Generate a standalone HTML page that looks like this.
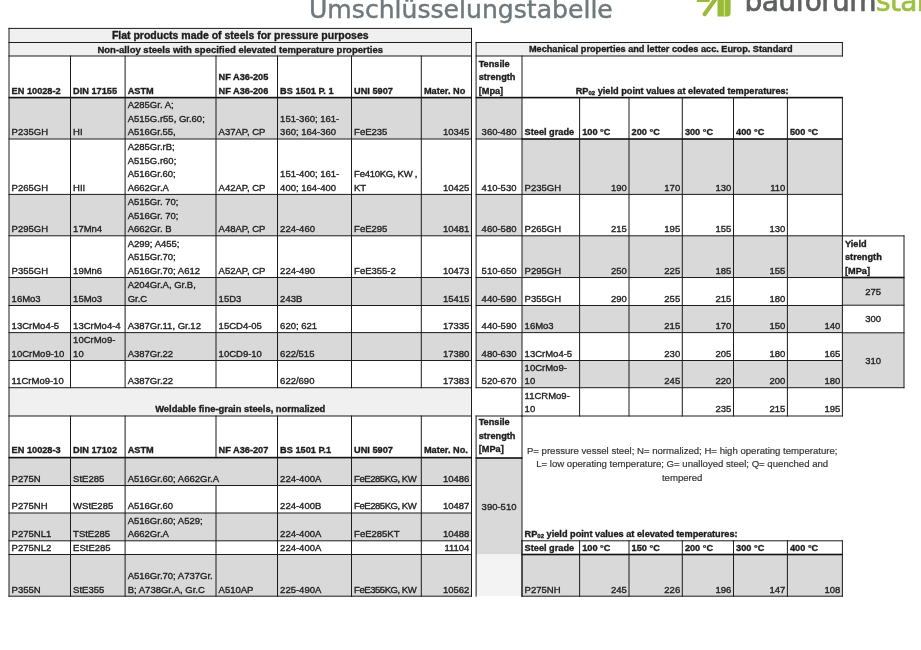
<!DOCTYPE html>
<html><head><meta charset="utf-8"><title>Umschlüsselungstabelle</title>
<style>
html,body{margin:0;padding:0;background:#fff;}
body{width:921px;height:650px;position:relative;overflow:hidden;}
.t{position:absolute;font-family:"Liberation Sans",Arial,sans-serif;font-size:9.5px;line-height:13.6px;white-space:nowrap;color:#222;-webkit-text-stroke:0.35px #222;}
.b{font-weight:bold;color:#1a1a1a;font-size:9.2px;}
.m{font-size:9.17px;}
.ta{font-weight:bold;font-size:10.5px;color:#1a1a1a;}
.tb{font-weight:bold;font-size:9.5px;color:#1a1a1a;}
.e{color:#363636;font-size:9.6px;-webkit-text-stroke:0.2px #363636;}
.sub{font-size:6px;position:relative;top:1px;line-height:0;}
svg.grid{position:absolute;left:0;top:0;}
.title{position:absolute;left:309px;top:-5px;font-family:"DejaVu Sans",sans-serif;font-size:25.1px;line-height:30px;color:#6f797d;white-space:nowrap;-webkit-text-stroke:0.45px #6f797d;}
.brand{position:absolute;left:744.5px;top:-13.2px;font-family:"DejaVu Sans",sans-serif;font-size:28px;line-height:30px;color:#5f6062;letter-spacing:-0.6px;white-space:nowrap;-webkit-text-stroke:0.7px #5f6062;}
.brand span{-webkit-text-stroke:0.7px #9dc13f;}
.brand span{color:#9dc13f;}
.logo{position:absolute;left:690px;top:0;}
</style></head><body>
<div class="title">Umschlüsselungstabelle</div>
<svg class="logo" width="50" height="22" viewBox="0 0 50 22">
<polygon points="6.9,-4 21,-4 19.4,2.1 6.9,2.1" fill="#9aba3a"/>
<line x1="26.2" y1="-2" x2="14.6" y2="14.2" stroke="#9aba3a" stroke-width="4.1" stroke-linecap="round"/>
<path d="M27.5,-4 H40.6 V13 Q40.6,16.4 37.2,16.4 H27.5 Z" fill="#9aba3a"/>
<rect x="33.8" y="-4" width="1.1" height="20.4" fill="#d2ec86"/>
</svg>
<div class="brand">bauforum<span>stahl</span></div>
<svg class="grid" width="921" height="650" viewBox="0 0 921 650">
<rect x="9.00" y="28.40" width="462.50" height="27.60" fill="#f0f0f0"/>
<rect x="9.00" y="97.60" width="462.50" height="41.40" fill="#d9d9d9"/>
<rect x="9.00" y="194.40" width="462.50" height="41.40" fill="#d9d9d9"/>
<rect x="9.00" y="277.50" width="462.50" height="28.00" fill="#d9d9d9"/>
<rect x="9.00" y="332.60" width="462.50" height="27.90" fill="#d9d9d9"/>
<rect x="9.00" y="387.70" width="462.50" height="28.30" fill="#f0f0f0"/>
<rect x="9.00" y="457.60" width="462.50" height="27.90" fill="#d9d9d9"/>
<rect x="9.00" y="513.00" width="462.50" height="27.80" fill="#d9d9d9"/>
<rect x="9.00" y="554.50" width="462.50" height="41.70" fill="#d9d9d9"/>
<rect x="476.10" y="42.50" width="366.30" height="13.50" fill="#f0f0f0"/>
<rect x="476.10" y="97.60" width="45.90" height="41.40" fill="#d9d9d9"/>
<rect x="476.10" y="194.40" width="45.90" height="41.40" fill="#d9d9d9"/>
<rect x="476.10" y="277.50" width="45.90" height="28.00" fill="#d9d9d9"/>
<rect x="476.10" y="332.60" width="45.90" height="27.90" fill="#d9d9d9"/>
<rect x="522.00" y="139.00" width="320.40" height="55.40" fill="#d9d9d9"/>
<rect x="522.00" y="235.80" width="320.40" height="41.70" fill="#d9d9d9"/>
<rect x="522.00" y="305.50" width="320.40" height="27.10" fill="#d9d9d9"/>
<rect x="522.00" y="360.50" width="320.40" height="27.20" fill="#d9d9d9"/>
<rect x="842.40" y="277.50" width="61.60" height="27.70" fill="#d9d9d9"/>
<rect x="842.40" y="332.80" width="61.60" height="54.90" fill="#d9d9d9"/>
<rect x="476.10" y="458.00" width="45.90" height="96.50" fill="#d9d9d9"/>
<rect x="476.10" y="554.50" width="45.90" height="41.70" fill="#f3f3f3"/>
<rect x="522.00" y="554.50" width="320.40" height="41.70" fill="#d9d9d9"/>
<rect x="8.50" y="27.90" width="463.50" height="1.00" fill="#1c1c1c"/>
<rect x="8.50" y="42.00" width="463.50" height="1.00" fill="#1c1c1c"/>
<rect x="8.50" y="55.50" width="463.50" height="1.00" fill="#1c1c1c"/>
<rect x="8.50" y="96.80" width="463.50" height="1.60" fill="#111"/>
<rect x="8.50" y="138.50" width="463.50" height="1.00" fill="#1c1c1c"/>
<rect x="8.50" y="193.90" width="463.50" height="1.00" fill="#1c1c1c"/>
<rect x="8.50" y="235.30" width="463.50" height="1.00" fill="#1c1c1c"/>
<rect x="8.50" y="277.00" width="463.50" height="1.00" fill="#1c1c1c"/>
<rect x="8.50" y="305.00" width="463.50" height="1.00" fill="#1c1c1c"/>
<rect x="8.50" y="332.10" width="463.50" height="1.00" fill="#1c1c1c"/>
<rect x="8.50" y="360.00" width="463.50" height="1.00" fill="#1c1c1c"/>
<rect x="8.50" y="387.20" width="463.50" height="1.00" fill="#1c1c1c"/>
<rect x="8.50" y="27.90" width="1.00" height="568.80" fill="#1c1c1c"/>
<rect x="471.00" y="27.90" width="1.00" height="568.80" fill="#1c1c1c"/>
<rect x="70.00" y="55.50" width="1.00" height="332.70" fill="#1c1c1c"/>
<rect x="124.60" y="55.50" width="1.00" height="332.70" fill="#1c1c1c"/>
<rect x="215.50" y="55.50" width="1.00" height="332.70" fill="#1c1c1c"/>
<rect x="277.00" y="55.50" width="1.00" height="332.70" fill="#1c1c1c"/>
<rect x="351.00" y="55.50" width="1.00" height="332.70" fill="#1c1c1c"/>
<rect x="420.80" y="55.50" width="1.00" height="332.70" fill="#1c1c1c"/>
<rect x="8.50" y="415.50" width="463.50" height="1.00" fill="#1c1c1c"/>
<rect x="8.50" y="456.80" width="463.50" height="1.60" fill="#111"/>
<rect x="8.50" y="485.00" width="463.50" height="1.00" fill="#1c1c1c"/>
<rect x="8.50" y="512.50" width="463.50" height="1.00" fill="#1c1c1c"/>
<rect x="8.50" y="540.30" width="463.50" height="1.00" fill="#1c1c1c"/>
<rect x="8.50" y="554.00" width="463.50" height="1.00" fill="#1c1c1c"/>
<rect x="8.50" y="595.70" width="463.50" height="1.00" fill="#1c1c1c"/>
<rect x="70.00" y="415.50" width="1.00" height="181.20" fill="#1c1c1c"/>
<rect x="124.60" y="415.50" width="1.00" height="181.20" fill="#1c1c1c"/>
<rect x="215.50" y="415.50" width="1.00" height="42.60" fill="#1c1c1c"/>
<rect x="215.50" y="485.00" width="1.00" height="111.70" fill="#1c1c1c"/>
<rect x="277.00" y="415.50" width="1.00" height="181.20" fill="#1c1c1c"/>
<rect x="351.00" y="415.50" width="1.00" height="181.20" fill="#1c1c1c"/>
<rect x="420.80" y="415.50" width="1.00" height="181.20" fill="#1c1c1c"/>
<rect x="475.60" y="42.00" width="367.30" height="1.00" fill="#1c1c1c"/>
<rect x="475.60" y="55.50" width="367.30" height="1.00" fill="#1c1c1c"/>
<rect x="475.60" y="96.80" width="367.30" height="1.60" fill="#111"/>
<rect x="521.50" y="138.20" width="321.40" height="1.60" fill="#111"/>
<rect x="475.60" y="138.50" width="46.90" height="1.00" fill="#1c1c1c"/>
<rect x="475.60" y="193.90" width="367.30" height="1.00" fill="#1c1c1c"/>
<rect x="475.60" y="235.30" width="367.30" height="1.00" fill="#1c1c1c"/>
<rect x="475.60" y="277.00" width="367.30" height="1.00" fill="#1c1c1c"/>
<rect x="475.60" y="305.00" width="367.30" height="1.00" fill="#1c1c1c"/>
<rect x="475.60" y="332.10" width="367.30" height="1.00" fill="#1c1c1c"/>
<rect x="475.60" y="360.00" width="367.30" height="1.00" fill="#1c1c1c"/>
<rect x="475.60" y="387.20" width="367.30" height="1.00" fill="#1c1c1c"/>
<rect x="521.50" y="415.50" width="321.40" height="1.00" fill="#1c1c1c"/>
<rect x="475.60" y="42.00" width="1.00" height="346.20" fill="#1c1c1c"/>
<rect x="841.90" y="42.00" width="1.00" height="14.50" fill="#1c1c1c"/>
<rect x="521.50" y="55.50" width="1.00" height="361.00" fill="#1c1c1c"/>
<rect x="579.10" y="97.10" width="1.00" height="319.40" fill="#1c1c1c"/>
<rect x="628.50" y="97.10" width="1.00" height="319.40" fill="#1c1c1c"/>
<rect x="681.80" y="97.10" width="1.00" height="319.40" fill="#1c1c1c"/>
<rect x="733.00" y="97.10" width="1.00" height="319.40" fill="#1c1c1c"/>
<rect x="786.90" y="97.10" width="1.00" height="319.40" fill="#1c1c1c"/>
<rect x="841.90" y="97.10" width="1.00" height="319.40" fill="#1c1c1c"/>
<rect x="841.90" y="235.40" width="62.60" height="1.00" fill="#1c1c1c"/>
<rect x="841.90" y="276.70" width="62.60" height="1.60" fill="#111"/>
<rect x="841.90" y="304.70" width="62.60" height="1.00" fill="#1c1c1c"/>
<rect x="841.90" y="332.30" width="62.60" height="1.00" fill="#1c1c1c"/>
<rect x="841.90" y="387.20" width="62.60" height="1.00" fill="#1c1c1c"/>
<rect x="903.50" y="235.40" width="1.00" height="152.80" fill="#1c1c1c"/>
<rect x="475.60" y="415.50" width="46.90" height="1.00" fill="#1c1c1c"/>
<rect x="475.60" y="457.20" width="46.90" height="1.60" fill="#111"/>
<rect x="475.60" y="415.50" width="1.00" height="181.20" fill="#1c1c1c"/>
<rect x="521.50" y="415.50" width="1.00" height="181.20" fill="#1c1c1c"/>
<rect x="521.50" y="540.30" width="321.40" height="1.00" fill="#1c1c1c"/>
<rect x="521.50" y="553.70" width="321.40" height="1.60" fill="#111"/>
<rect x="521.50" y="595.70" width="321.40" height="1.00" fill="#1c1c1c"/>
<rect x="521.50" y="540.30" width="1.00" height="56.40" fill="#1c1c1c"/>
<rect x="579.10" y="540.30" width="1.00" height="56.40" fill="#1c1c1c"/>
<rect x="628.50" y="540.30" width="1.00" height="56.40" fill="#1c1c1c"/>
<rect x="681.80" y="540.30" width="1.00" height="56.40" fill="#1c1c1c"/>
<rect x="733.00" y="540.30" width="1.00" height="56.40" fill="#1c1c1c"/>
<rect x="786.90" y="540.30" width="1.00" height="56.40" fill="#1c1c1c"/>
<rect x="841.90" y="540.30" width="1.00" height="56.40" fill="#1c1c1c"/>
</svg>
<div class="t b" style="left:11.60px;width:56.30px;bottom:551.60px;text-align:left;">EN 10028-2</div>
<div class="t b" style="left:73.10px;width:49.40px;bottom:551.60px;text-align:left;">DIN 17155</div>
<div class="t b" style="left:127.70px;width:85.70px;bottom:551.60px;text-align:left;">ASTM</div>
<div class="t b" style="left:218.60px;width:56.30px;bottom:551.60px;text-align:left;">NF A36-205<br>NF A36-206</div>
<div class="t b" style="left:280.10px;width:68.80px;bottom:551.60px;text-align:left;">BS 1501 P. 1</div>
<div class="t b" style="left:354.10px;width:64.60px;bottom:551.60px;text-align:left;">UNI 5907</div>
<div class="t b" style="left:423.90px;width:45.00px;bottom:551.60px;text-align:left;">Mater. No</div>
<div class="t d" style="left:11.60px;width:56.30px;bottom:511.00px;text-align:left;">P235GH</div>
<div class="t d" style="left:73.10px;width:49.40px;bottom:511.00px;text-align:left;">HI</div>
<div class="t d" style="left:127.70px;width:85.70px;bottom:511.00px;text-align:left;">A285Gr. A;<br>A515G.r55, Gr.60;<br>A516Gr.55,</div>
<div class="t d" style="left:218.60px;width:56.30px;bottom:511.00px;text-align:left;">A37AP, CP</div>
<div class="t d" style="left:280.10px;width:68.80px;bottom:511.00px;text-align:left;">151-360; 161-<br>360; 164-360</div>
<div class="t d" style="left:354.10px;width:64.60px;bottom:511.00px;text-align:left;">FeE235</div>
<div class="t d" style="left:423.40px;width:46.00px;bottom:511.00px;text-align:right;">10345</div>
<div class="t d" style="left:11.60px;width:56.30px;bottom:455.60px;text-align:left;">P265GH</div>
<div class="t d" style="left:73.10px;width:49.40px;bottom:455.60px;text-align:left;">HII</div>
<div class="t d" style="left:127.70px;width:85.70px;bottom:455.60px;text-align:left;">A285Gr.rB;<br>A515G.r60;<br>A516Gr.60;<br>A662Gr.A</div>
<div class="t d" style="left:218.60px;width:56.30px;bottom:455.60px;text-align:left;">A42AP, CP</div>
<div class="t d" style="left:280.10px;width:68.80px;bottom:455.60px;text-align:left;">151-400; 161-<br>400; 164-400</div>
<div class="t d" style="left:354.10px;width:64.60px;bottom:455.60px;text-align:left;letter-spacing:-0.27px;">Fe410KG, KW ,<br>KT</div>
<div class="t d" style="left:423.40px;width:46.00px;bottom:455.60px;text-align:right;">10425</div>
<div class="t d" style="left:11.60px;width:56.30px;bottom:414.20px;text-align:left;">P295GH</div>
<div class="t d" style="left:73.10px;width:49.40px;bottom:414.20px;text-align:left;">17Mn4</div>
<div class="t d" style="left:127.70px;width:85.70px;bottom:414.20px;text-align:left;">A515Gr. 70;<br>A516Gr. 70;<br>A662Gr. B</div>
<div class="t d" style="left:218.60px;width:56.30px;bottom:414.20px;text-align:left;">A48AP, CP</div>
<div class="t d" style="left:280.10px;width:68.80px;bottom:414.20px;text-align:left;">224-460</div>
<div class="t d" style="left:354.10px;width:64.60px;bottom:414.20px;text-align:left;">FeE295</div>
<div class="t d" style="left:423.40px;width:46.00px;bottom:414.20px;text-align:right;">10481</div>
<div class="t d" style="left:11.60px;width:56.30px;bottom:372.50px;text-align:left;">P355GH</div>
<div class="t d" style="left:73.10px;width:49.40px;bottom:372.50px;text-align:left;">19Mn6</div>
<div class="t d" style="left:127.70px;width:85.70px;bottom:372.50px;text-align:left;">A299; A455;<br>A515Gr.70;<br>A516Gr.70; A612</div>
<div class="t d" style="left:218.60px;width:56.30px;bottom:372.50px;text-align:left;">A52AP, CP</div>
<div class="t d" style="left:280.10px;width:68.80px;bottom:372.50px;text-align:left;">224-490</div>
<div class="t d" style="left:354.10px;width:64.60px;bottom:372.50px;text-align:left;">FeE355-2</div>
<div class="t d" style="left:423.40px;width:46.00px;bottom:372.50px;text-align:right;">10473</div>
<div class="t d" style="left:11.60px;width:56.30px;bottom:344.50px;text-align:left;">16Mo3</div>
<div class="t d" style="left:73.10px;width:49.40px;bottom:344.50px;text-align:left;">15Mo3</div>
<div class="t d" style="left:127.70px;width:85.70px;bottom:344.50px;text-align:left;">A204Gr.A, Gr.B,<br>Gr.C</div>
<div class="t d" style="left:218.60px;width:56.30px;bottom:344.50px;text-align:left;">15D3</div>
<div class="t d" style="left:280.10px;width:68.80px;bottom:344.50px;text-align:left;">243B</div>
<div class="t d" style="left:423.40px;width:46.00px;bottom:344.50px;text-align:right;">15415</div>
<div class="t d" style="left:11.60px;width:56.30px;bottom:317.40px;text-align:left;">13CrMo4-5</div>
<div class="t d" style="left:73.10px;width:49.40px;bottom:317.40px;text-align:left;">13CrMo4-4</div>
<div class="t d" style="left:127.70px;width:85.70px;bottom:317.40px;text-align:left;">A387Gr.11, Gr.12</div>
<div class="t d" style="left:218.60px;width:56.30px;bottom:317.40px;text-align:left;">15CD4-05</div>
<div class="t d" style="left:280.10px;width:68.80px;bottom:317.40px;text-align:left;">620; 621</div>
<div class="t d" style="left:423.40px;width:46.00px;bottom:317.40px;text-align:right;">17335</div>
<div class="t d" style="left:11.60px;width:56.30px;bottom:289.50px;text-align:left;">10CrMo9-10</div>
<div class="t d" style="left:73.10px;width:49.40px;bottom:289.50px;text-align:left;">10CrMo9-<br>10</div>
<div class="t d" style="left:127.70px;width:85.70px;bottom:289.50px;text-align:left;">A387Gr.22</div>
<div class="t d" style="left:218.60px;width:56.30px;bottom:289.50px;text-align:left;">10CD9-10</div>
<div class="t d" style="left:280.10px;width:68.80px;bottom:289.50px;text-align:left;">622/515</div>
<div class="t d" style="left:423.40px;width:46.00px;bottom:289.50px;text-align:right;">17380</div>
<div class="t d" style="left:11.60px;width:56.30px;bottom:262.30px;text-align:left;">11CrMo9-10</div>
<div class="t d" style="left:127.70px;width:85.70px;bottom:262.30px;text-align:left;">A387Gr.22</div>
<div class="t d" style="left:280.10px;width:68.80px;bottom:262.30px;text-align:left;">622/690</div>
<div class="t d" style="left:423.40px;width:46.00px;bottom:262.30px;text-align:right;">17383</div>
<div class="t ta" style="left:9.00px;width:462.50px;top:29.41px;text-align:center;">Flat products made of steels for pressure purposes</div>
<div class="t tb" style="left:9.00px;width:462.50px;top:42.81px;text-align:center;">Non-alloy steels with specified elevated temperature properties</div>
<div class="t b" style="left:9.00px;width:462.50px;top:402.31px;text-align:center;font-size:9.4px;">Weldable fine-grain steels, normalized</div>
<div class="t b" style="left:11.60px;width:56.30px;bottom:192.90px;text-align:left;">EN 10028-3</div>
<div class="t b" style="left:73.10px;width:49.40px;bottom:192.90px;text-align:left;">DIN 17102</div>
<div class="t b" style="left:127.70px;width:85.70px;bottom:192.90px;text-align:left;">ASTM</div>
<div class="t b" style="left:218.60px;width:56.30px;bottom:192.90px;text-align:left;">NF A36-207</div>
<div class="t b" style="left:280.10px;width:68.80px;bottom:192.90px;text-align:left;">BS 1501 P.1</div>
<div class="t b" style="left:354.10px;width:64.60px;bottom:192.90px;text-align:left;">UNI 5907</div>
<div class="t b" style="left:423.90px;width:45.00px;bottom:192.90px;text-align:left;">Mater. No.</div>
<div class="t d" style="left:11.60px;width:56.30px;bottom:164.50px;text-align:left;">P275N</div>
<div class="t d" style="left:73.10px;width:49.40px;bottom:164.50px;text-align:left;">StE285</div>
<div class="t d" style="left:127.70px;width:147.20px;bottom:164.50px;text-align:left;">A516Gr.60; A662Gr.A</div>
<div class="t d" style="left:280.10px;width:68.80px;bottom:164.50px;text-align:left;">224-400A</div>
<div class="t d" style="left:354.10px;width:64.60px;bottom:164.50px;text-align:left;letter-spacing:-0.45px;">FeE285KG, KW</div>
<div class="t d" style="left:423.40px;width:46.00px;bottom:164.50px;text-align:right;">10486</div>
<div class="t d" style="left:11.60px;width:56.30px;bottom:137.00px;text-align:left;">P275NH</div>
<div class="t d" style="left:73.10px;width:49.40px;bottom:137.00px;text-align:left;">WStE285</div>
<div class="t d" style="left:127.70px;width:85.70px;bottom:137.00px;text-align:left;">A516Gr.60</div>
<div class="t d" style="left:280.10px;width:68.80px;bottom:137.00px;text-align:left;">224-400B</div>
<div class="t d" style="left:354.10px;width:64.60px;bottom:137.00px;text-align:left;letter-spacing:-0.45px;">FeE285KG, KW</div>
<div class="t d" style="left:423.40px;width:46.00px;bottom:137.00px;text-align:right;">10487</div>
<div class="t d" style="left:11.60px;width:56.30px;bottom:109.20px;text-align:left;">P275NL1</div>
<div class="t d" style="left:73.10px;width:49.40px;bottom:109.20px;text-align:left;">TStE285</div>
<div class="t d" style="left:127.70px;width:85.70px;bottom:109.20px;text-align:left;">A516Gr.60; A529;<br>A662Gr.A</div>
<div class="t d" style="left:280.10px;width:68.80px;bottom:109.20px;text-align:left;">224-400A</div>
<div class="t d" style="left:354.10px;width:64.60px;bottom:109.20px;text-align:left;">FeE285KT</div>
<div class="t d" style="left:423.40px;width:46.00px;bottom:109.20px;text-align:right;">10488</div>
<div class="t d" style="left:11.60px;width:56.30px;bottom:95.50px;text-align:left;">P275NL2</div>
<div class="t d" style="left:73.10px;width:49.40px;bottom:95.50px;text-align:left;">EStE285</div>
<div class="t d" style="left:280.10px;width:68.80px;bottom:95.50px;text-align:left;">224-400A</div>
<div class="t d" style="left:423.40px;width:46.00px;bottom:95.50px;text-align:right;">11104</div>
<div class="t d" style="left:11.60px;width:56.30px;bottom:53.80px;text-align:left;">P355N</div>
<div class="t d" style="left:73.10px;width:49.40px;bottom:53.80px;text-align:left;">StE355</div>
<div class="t d" style="left:127.70px;width:85.70px;bottom:53.80px;text-align:left;">A516Gr.70; A737Gr.<br>B; A738Gr.A, Gr.C</div>
<div class="t d" style="left:218.60px;width:56.30px;bottom:53.80px;text-align:left;">A510AP</div>
<div class="t d" style="left:280.10px;width:68.80px;bottom:53.80px;text-align:left;">225-490A</div>
<div class="t d" style="left:354.10px;width:64.60px;bottom:53.80px;text-align:left;letter-spacing:-0.45px;">FeE355KG, KW</div>
<div class="t d" style="left:423.40px;width:46.00px;bottom:53.80px;text-align:right;">10562</div>
<div class="t b m" style="left:476.10px;width:366.30px;top:43.41px;text-align:center;left:477.60px;">Mechanical properties and letter codes acc. Europ. Standard</div>
<div class="t b" style="left:478.70px;width:40.70px;bottom:551.60px;text-align:left;">Tensile<br>strength<br>[Mpa]</div>
<div class="t b" style="left:522.00px;width:320.40px;top:84.71px;text-align:center;">RP<span class="sub">02</span> yield point values at elevated temperatures:</div>
<div class="t d" style="left:476.60px;width:44.90px;bottom:511.00px;text-align:center;">360-480</div>
<div class="t d" style="left:476.60px;width:44.90px;bottom:455.60px;text-align:center;">410-530</div>
<div class="t d" style="left:476.60px;width:44.90px;bottom:414.20px;text-align:center;">460-580</div>
<div class="t d" style="left:476.60px;width:44.90px;bottom:372.50px;text-align:center;">510-650</div>
<div class="t d" style="left:476.60px;width:44.90px;bottom:344.50px;text-align:center;">440-590</div>
<div class="t d" style="left:476.60px;width:44.90px;bottom:317.40px;text-align:center;">440-590</div>
<div class="t d" style="left:476.60px;width:44.90px;bottom:289.50px;text-align:center;">480-630</div>
<div class="t d" style="left:476.60px;width:44.90px;bottom:262.30px;text-align:center;">520-670</div>
<div class="t b" style="left:524.60px;width:52.40px;bottom:510.20px;text-align:left;">Steel grade</div>
<div class="t b" style="left:582.20px;width:44.20px;bottom:510.20px;text-align:left;">100 °C</div>
<div class="t b" style="left:631.60px;width:48.10px;bottom:510.20px;text-align:left;">200 °C</div>
<div class="t b" style="left:684.90px;width:46.00px;bottom:510.20px;text-align:left;">300 °C</div>
<div class="t b" style="left:736.10px;width:48.70px;bottom:510.20px;text-align:left;">400 °C</div>
<div class="t b" style="left:790.00px;width:49.80px;bottom:510.20px;text-align:left;">500 °C</div>
<div class="t d" style="left:524.60px;width:52.40px;bottom:455.60px;text-align:left;">P235GH</div>
<div class="t d" style="left:581.70px;width:45.20px;bottom:455.60px;text-align:right;">190</div>
<div class="t d" style="left:631.10px;width:49.10px;bottom:455.60px;text-align:right;">170</div>
<div class="t d" style="left:684.40px;width:47.00px;bottom:455.60px;text-align:right;">130</div>
<div class="t d" style="left:735.60px;width:49.70px;bottom:455.60px;text-align:right;">110</div>
<div class="t d" style="left:524.60px;width:52.40px;bottom:414.20px;text-align:left;">P265GH</div>
<div class="t d" style="left:581.70px;width:45.20px;bottom:414.20px;text-align:right;">215</div>
<div class="t d" style="left:631.10px;width:49.10px;bottom:414.20px;text-align:right;">195</div>
<div class="t d" style="left:684.40px;width:47.00px;bottom:414.20px;text-align:right;">155</div>
<div class="t d" style="left:735.60px;width:49.70px;bottom:414.20px;text-align:right;">130</div>
<div class="t d" style="left:524.60px;width:52.40px;bottom:372.50px;text-align:left;">P295GH</div>
<div class="t d" style="left:581.70px;width:45.20px;bottom:372.50px;text-align:right;">250</div>
<div class="t d" style="left:631.10px;width:49.10px;bottom:372.50px;text-align:right;">225</div>
<div class="t d" style="left:684.40px;width:47.00px;bottom:372.50px;text-align:right;">185</div>
<div class="t d" style="left:735.60px;width:49.70px;bottom:372.50px;text-align:right;">155</div>
<div class="t d" style="left:524.60px;width:52.40px;bottom:344.50px;text-align:left;">P355GH</div>
<div class="t d" style="left:581.70px;width:45.20px;bottom:344.50px;text-align:right;">290</div>
<div class="t d" style="left:631.10px;width:49.10px;bottom:344.50px;text-align:right;">255</div>
<div class="t d" style="left:684.40px;width:47.00px;bottom:344.50px;text-align:right;">215</div>
<div class="t d" style="left:735.60px;width:49.70px;bottom:344.50px;text-align:right;">180</div>
<div class="t d" style="left:524.60px;width:52.40px;bottom:317.40px;text-align:left;">16Mo3</div>
<div class="t d" style="left:631.10px;width:49.10px;bottom:317.40px;text-align:right;">215</div>
<div class="t d" style="left:684.40px;width:47.00px;bottom:317.40px;text-align:right;">170</div>
<div class="t d" style="left:735.60px;width:49.70px;bottom:317.40px;text-align:right;">150</div>
<div class="t d" style="left:789.50px;width:50.80px;bottom:317.40px;text-align:right;">140</div>
<div class="t d" style="left:524.60px;width:52.40px;bottom:289.50px;text-align:left;">13CrMo4-5</div>
<div class="t d" style="left:631.10px;width:49.10px;bottom:289.50px;text-align:right;">230</div>
<div class="t d" style="left:684.40px;width:47.00px;bottom:289.50px;text-align:right;">205</div>
<div class="t d" style="left:735.60px;width:49.70px;bottom:289.50px;text-align:right;">180</div>
<div class="t d" style="left:789.50px;width:50.80px;bottom:289.50px;text-align:right;">165</div>
<div class="t d" style="left:524.60px;width:52.40px;bottom:262.30px;text-align:left;">10CrMo9-<br>10</div>
<div class="t d" style="left:631.10px;width:49.10px;bottom:262.30px;text-align:right;">245</div>
<div class="t d" style="left:684.40px;width:47.00px;bottom:262.30px;text-align:right;">220</div>
<div class="t d" style="left:735.60px;width:49.70px;bottom:262.30px;text-align:right;">200</div>
<div class="t d" style="left:789.50px;width:50.80px;bottom:262.30px;text-align:right;">180</div>
<div class="t d" style="left:524.60px;width:52.40px;bottom:234.00px;text-align:left;">11CRMo9-<br>10</div>
<div class="t d" style="left:684.40px;width:47.00px;bottom:234.00px;text-align:right;">235</div>
<div class="t d" style="left:735.60px;width:49.70px;bottom:234.00px;text-align:right;">215</div>
<div class="t d" style="left:789.50px;width:50.80px;bottom:234.00px;text-align:right;">195</div>
<div class="t b" style="left:845.00px;width:56.40px;bottom:371.70px;text-align:left;">Yield<br>strength<br>[MPa]</div>
<div class="t d" style="left:842.40px;width:61.60px;top:284.51px;text-align:center;">275</div>
<div class="t d" style="left:842.40px;width:61.60px;top:311.91px;text-align:center;">300</div>
<div class="t d" style="left:842.40px;width:61.60px;top:353.71px;text-align:center;">310</div>
<div class="t b" style="left:478.70px;width:40.70px;bottom:193.20px;text-align:left;">Tensile<br>strength<br>[MPa]</div>
<div class="t d" style="left:476.10px;width:45.90px;top:499.51px;text-align:center;">390-510</div>
<div class="t e" style="left:522.00px;width:320.40px;top:443.71px;text-align:center;">P= pressure vessel steel; N= normalized; H= high operating temperature;</div>
<div class="t e" style="left:522.00px;width:320.40px;top:457.41px;text-align:center;">L= low operating temperature; G= unalloyed steel; Q= quenched and</div>
<div class="t e" style="left:522.00px;width:320.40px;top:471.01px;text-align:center;">tempered</div>
<div class="t b" style="left:524.60px;width:375.20px;bottom:108.20px;text-align:left;">RP<span class="sub">02</span> yield point values at elevated temperatures:</div>
<div class="t b" style="left:524.60px;width:52.40px;bottom:94.70px;text-align:left;">Steel grade</div>
<div class="t b" style="left:582.20px;width:44.20px;bottom:94.70px;text-align:left;">100 °C</div>
<div class="t b" style="left:631.60px;width:48.10px;bottom:94.70px;text-align:left;">150 °C</div>
<div class="t b" style="left:684.90px;width:46.00px;bottom:94.70px;text-align:left;">200 °C</div>
<div class="t b" style="left:736.10px;width:48.70px;bottom:94.70px;text-align:left;">300 °C</div>
<div class="t b" style="left:790.00px;width:49.80px;bottom:94.70px;text-align:left;">400 °C</div>
<div class="t d" style="left:524.60px;width:52.40px;bottom:53.80px;text-align:left;">P275NH</div>
<div class="t d" style="left:581.70px;width:45.20px;bottom:53.80px;text-align:right;">245</div>
<div class="t d" style="left:631.10px;width:49.10px;bottom:53.80px;text-align:right;">226</div>
<div class="t d" style="left:684.40px;width:47.00px;bottom:53.80px;text-align:right;">196</div>
<div class="t d" style="left:735.60px;width:49.70px;bottom:53.80px;text-align:right;">147</div>
<div class="t d" style="left:789.50px;width:50.80px;bottom:53.80px;text-align:right;">108</div>
</body></html>
